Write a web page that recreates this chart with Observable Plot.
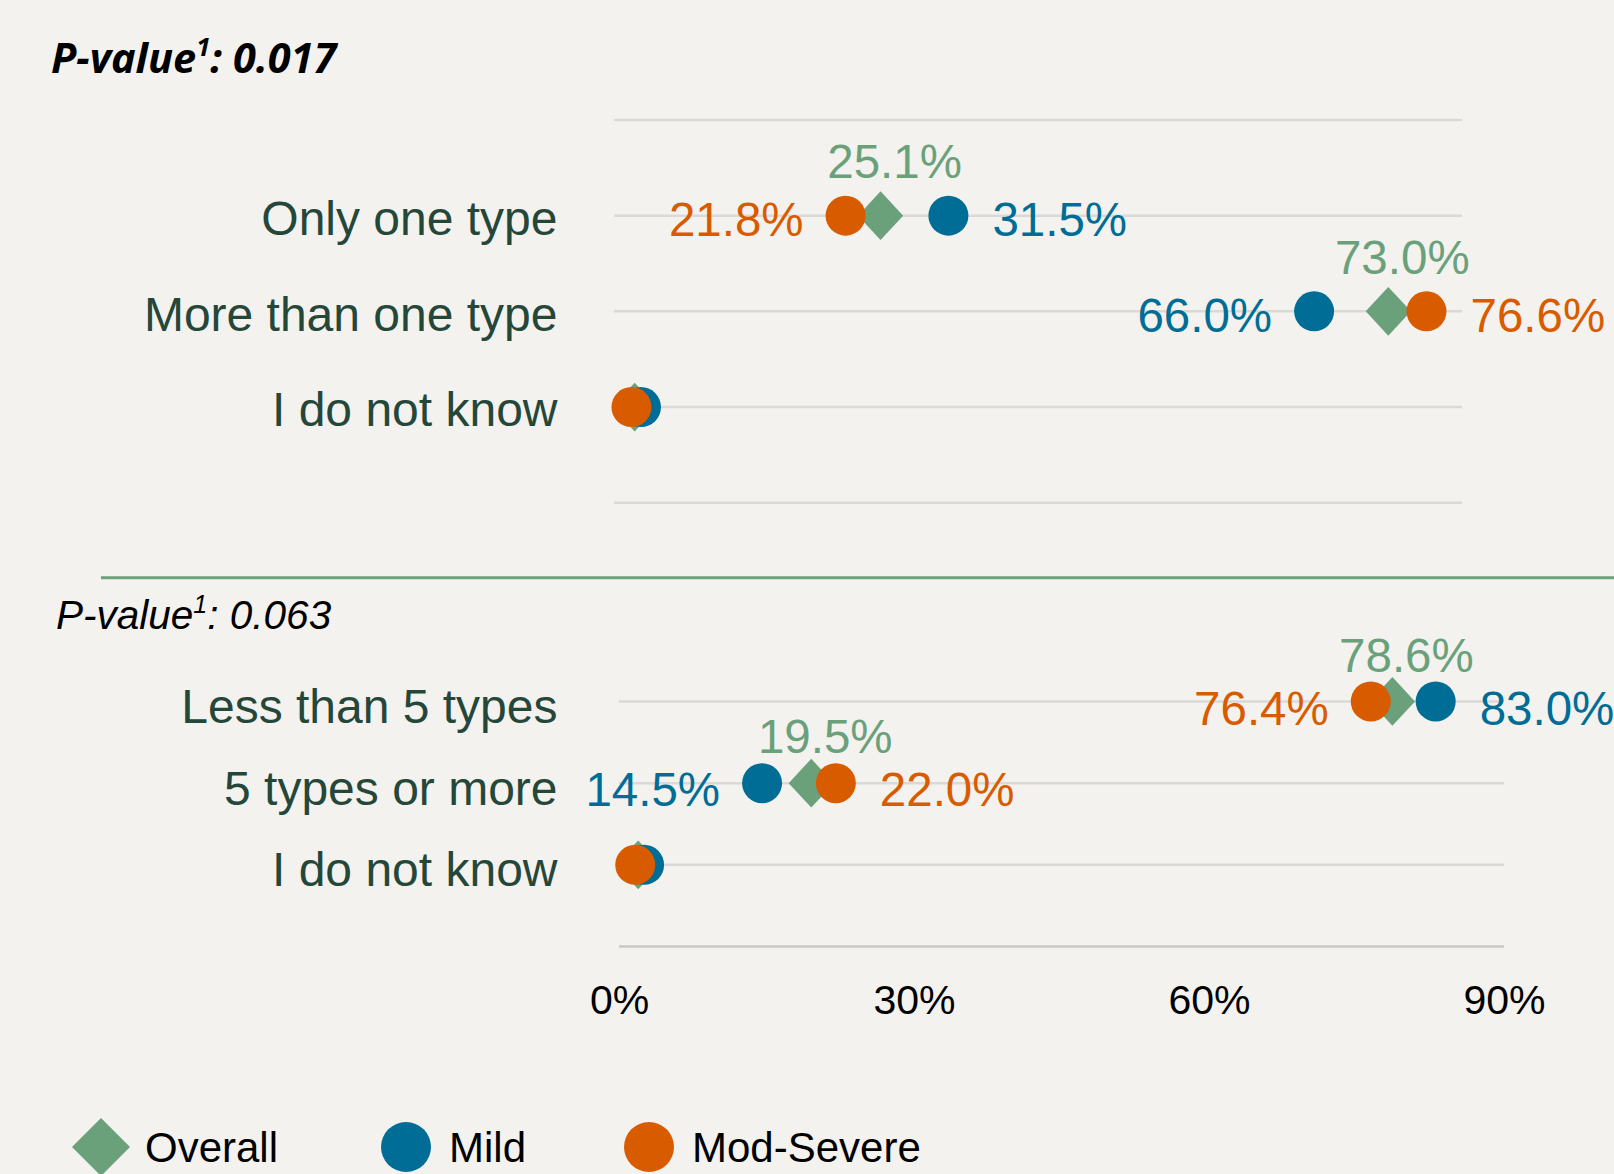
<!DOCTYPE html>
<html>
<head>
<meta charset="utf-8">
<script src="https://cdn.jsdelivr.net/npm/d3@7"></script>
<script src="https://cdn.jsdelivr.net/npm/@observablehq/plot@0.6"></script>
<style>
html, body { margin: 0; padding: 0; background: #f4f2ee; }
#page { position: relative; width: 1614px; height: 1174px; overflow: hidden; background: #f4f2ee; font-family: "Liberation Sans", Arial, sans-serif; }
.layer { position: absolute; left: 0; }
</style>
</head>
<body>
<div id="page">
  <div id="top" class="layer" style="top:0px"></div>
  <div id="bottom" class="layer" style="top:580px"></div>
  <svg id="overlay" class="layer" style="top:0px" width="1614" height="1174"></svg>
</div>
<script>
// ---------- data ----------
const seriesNames = ["Overall", "Mild", "Mod-Severe"];

const topCategories = ["Only one type", "More than one type", "I do not know"];
const topOverall = [25.1, 73.0, 1.9];
const topMild = [31.5, 66.0, 2.5];
const topModSevere = [21.8, 76.6, 1.6];
const topPValue = "0.017";

const bottomCategories = ["Less than 5 types", "5 types or more", "I do not know"];
const bottomOverall = [78.6, 19.5, 1.9];
const bottomMild = [83.0, 14.5, 2.5];
const bottomModSevere = [76.4, 22.0, 1.6];
const bottomPValue = "0.063";

const xTicks = [0, 30, 60, 90];

// ---------- styles ----------
const GREEN = "#6aa17b";
const BLUE = "#006d96";
const ORANGE = "#d95b00";
const seriesColors = [GREEN, BLUE, ORANGE];
const LABEL_COLOR = "#25473a";
const GRID = "#dbd9d7";
const FONT = "'Liberation Sans', Arial, sans-serif";

const diamond = {
  draw(ctx, size) {
    const r = Math.sqrt(size / Math.PI);
    const w = r * 1.13, h = r * 1.22;
    ctx.moveTo(0, -h); ctx.lineTo(w, 0); ctx.lineTo(0, h); ctx.lineTo(-w, 0); ctx.closePath();
  }
};

function buildRows(categories, overall, mild, mod) {
  const rows = [];
  categories.forEach((c, i) => {
    const mildLeft = mild[i] < mod[i];
    rows.push({cat: c, row: i + 1, series: "Overall", value: overall[i], side: "top"});
    rows.push({cat: c, row: i + 1, series: "Mild", value: mild[i], side: mildLeft ? "left" : "right"});
    rows.push({cat: c, row: i + 1, series: "Mod-Severe", value: mod[i], side: mildLeft ? "right" : "left"});
  });
  return rows;
}

function panel(opts) {
  const {categories, rows, xMax, height, marginTop, marginBottom, marginLeft, marginRight,
         gridRows, axisRows, overallDy, sideDy, tickPadding, catDy, showX} = opts;
  const labelled = rows.filter(d => d.value >= 5);
  const fmt = d => d.value.toFixed(1) + "%";
  const marks = [
    Plot.ruleY(gridRows, {stroke: GRID, strokeWidth: 2.5}),
    axisRows ? Plot.ruleY(axisRows, {stroke: "#c9c7c5", strokeWidth: 2.5}) : null,
    Plot.dot(rows.filter(d => d.series === "Overall"), {x: "value", y: "row", r: 20, symbol: diamond, fill: "series"}),
    Plot.dot(rows.filter(d => d.series === "Mild"), {x: "value", y: "row", r: 20, fill: "series"}),
    Plot.dot(rows.filter(d => d.series === "Mod-Severe"), {x: "value", y: "row", r: 20, fill: "series"}),
    Plot.text(labelled.filter(d => d.side === "top"), {x: "value", y: "row", text: fmt, fill: "series", dx: 14, dy: overallDy, fontSize: 47.5, fontFamily: FONT}),
    Plot.text(labelled.filter(d => d.side === "left"), {x: "value", y: "row", text: fmt, fill: "series", dx: -42, dy: sideDy, textAnchor: "end", fontSize: 47.5, fontFamily: FONT}),
    Plot.text(labelled.filter(d => d.side === "right"), {x: "value", y: "row", text: fmt, fill: "series", dx: 44, dy: sideDy, textAnchor: "start", fontSize: 47.5, fontFamily: FONT}),
    Plot.axisY([1, 2, 3], {tickFormat: i => categories[i - 1], tickSize: 0, tickPadding, dy: catDy, fontSize: 48, fill: LABEL_COLOR, label: null, fontFamily: FONT}),
    showX ? Plot.axisX(xTicks, {tickFormat: d => d + "%", tickSize: 0, tickPadding: 38, fontSize: 41, fill: "#000", label: null, fontFamily: FONT}) : null
  ].filter(Boolean);
  return Plot.plot({
    width: 1614, height, marginTop, marginBottom, marginLeft, marginRight,
    style: {background: "transparent", fontFamily: FONT, overflow: "visible"},
    x: {domain: [0, xMax], axis: showX ? undefined : null},
    y: {domain: [0, 4], reverse: true},
    color: {domain: seriesNames, range: seriesColors},
    marks
  });
}

document.getElementById("top").append(panel({
  categories: topCategories,
  rows: buildRows(topCategories, topOverall, topMild, topModSevere),
  xMax: 80, height: 540, marginTop: 119.4, marginBottom: 37.7, marginLeft: 614, marginRight: 152,
  gridRows: [0, 1, 2, 3, 4], axisRows: null, overallDy: -53, sideDy: 5, tickPadding: 57, catDy: 4, showX: false
}));

document.getElementById("bottom").append(panel({
  categories: bottomCategories,
  rows: buildRows(bottomCategories, bottomOverall, bottomMild, bottomModSevere),
  xMax: 90, height: 480, marginTop: 39.3, marginBottom: 114, marginLeft: 619, marginRight: 110,
  gridRows: [1, 2, 3], axisRows: [4], overallDy: -45, sideDy: 8, tickPadding: 62, catDy: 6, showX: true
}));

// ---------- overlay: p-values, separator, legend ----------
const ov = d3.select("#overlay");
function pvalue(x, y, value, family, weight, size) {
  const t = ov.append("text").attr("x", x).attr("y", y)
    .attr("font-family", family).attr("font-weight", weight).attr("font-style", "italic")
    .attr("font-size", size).attr("fill", "#000");
  t.append("tspan").text("P-value");
  t.append("tspan").attr("font-size", size * 0.62).attr("dy", -size * 0.4).text("1");
  t.append("tspan").attr("dy", size * 0.4).text(": " + value);
}
pvalue(51, 73, topPValue, "'Noto Sans', 'Open Sans', sans-serif", 700, 41.5);
pvalue(56, 629, bottomPValue, FONT, 400, 40.5);

ov.append("line").attr("x1", 101).attr("x2", 1614).attr("y1", 577.7).attr("y2", 577.7)
  .attr("stroke", GREEN).attr("stroke-width", 3);

const legendX = [101, 406, 649];
seriesNames.forEach((name, i) => {
  const cx = legendX[i], cy = 1147;
  if (i === 0) {
    ov.append("path").attr("d", `M${cx},${cy - 29}L${cx + 29},${cy}L${cx},${cy + 29}L${cx - 29},${cy}Z`).attr("fill", seriesColors[i]);
  } else {
    ov.append("circle").attr("cx", cx).attr("cy", cy).attr("r", 25).attr("fill", seriesColors[i]);
  }
  ov.append("text").attr("x", cx + (i === 0 ? 44 : 43)).attr("y", 1162)
    .attr("font-family", FONT).attr("font-size", 42).attr("fill", "#000").text(name);
});
</script>
</body>
</html>
